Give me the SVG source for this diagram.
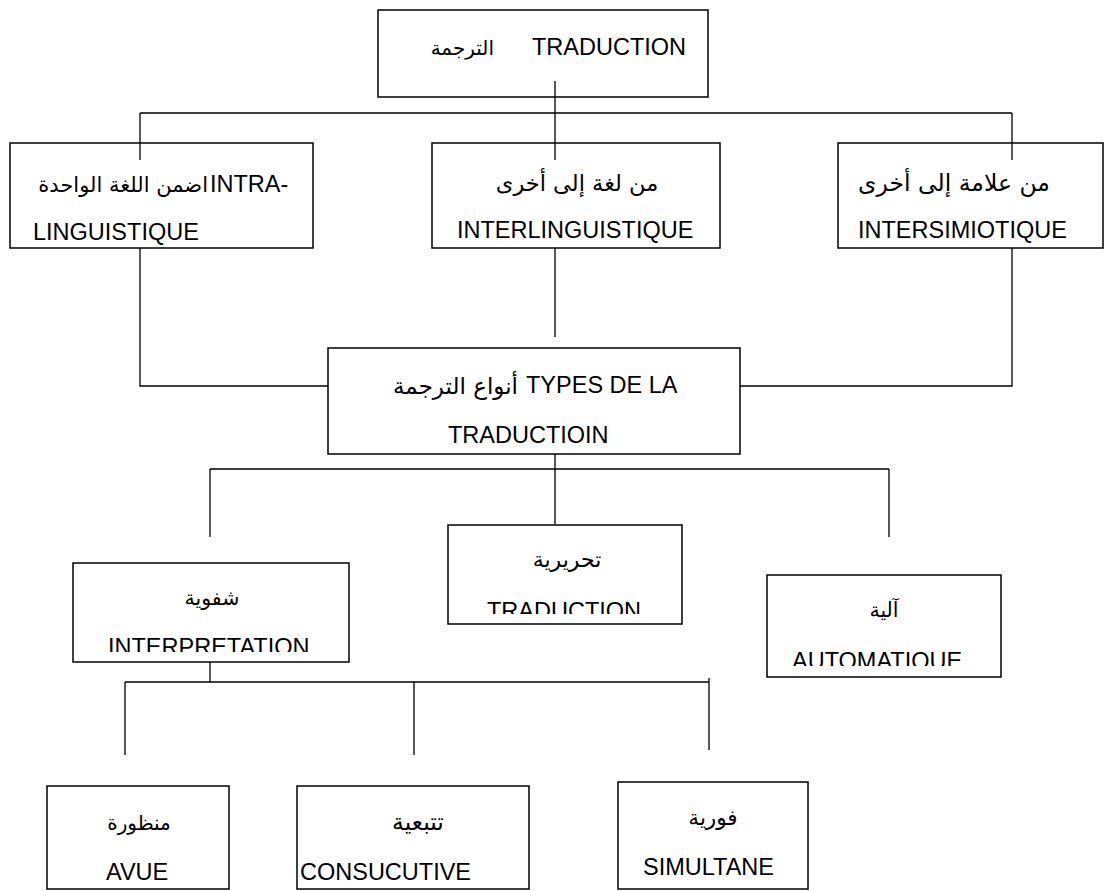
<svg xmlns="http://www.w3.org/2000/svg" width="1104" height="891" viewBox="0 0 1104 891">
<style>
.box{fill:#fff;stroke:#000;stroke-width:1.5}
.ln{stroke:#000;stroke-width:1.3;fill:none}
.lat{font-family:"Liberation Sans",Arial,sans-serif;font-size:23.5px;fill:#000}
.ar{font-family:"DejaVu Sans","Noto Sans",sans-serif;font-size:20px;fill:#000}
.mid{text-anchor:middle}
.end{text-anchor:end}
</style>
<defs>
<clipPath id="c1"><rect x="73" y="563" width="276" height="89"/></clipPath>
<clipPath id="c2"><rect x="448" y="525" width="234" height="89"/></clipPath>
<clipPath id="c3"><rect x="767" y="575" width="234" height="91"/></clipPath>
</defs>
<rect width="1104" height="891" fill="#fff"/>
<g id="n-top">
<rect class="box" x="378" y="10" width="330" height="87"/>
<text class="ar end" x="494" y="55" style="font-size:20px">الترجمة</text>
<text class="lat" x="532" y="55">TRADUCTION</text>
</g>
<g id="n-intra">
<rect class="box" x="10" y="143" width="303" height="105"/>
<text class="ar end" x="208" y="192" style="font-size:21px">اضمن اللغة الواحدة</text>
<text class="lat" x="210" y="192">INTRA-</text>
<text class="lat" x="33" y="240">LINGUISTIQUE</text>
</g>
<g id="n-inter">
<rect class="box" x="432" y="143" width="288" height="105"/>
<text class="ar mid" x="577" y="191" style="font-size:22.5px">من لغة إلى أخرى</text>
<text class="lat" x="457" y="238">INTERLINGUISTIQUE</text>
</g>
<g id="n-semio">
<rect class="box" x="838" y="143" width="265" height="105"/>
<text class="ar mid" x="954" y="191" style="font-size:23.5px">من علامة إلى أخرى</text>
<text class="lat" x="858" y="238">INTERSIMIOTIQUE</text>
</g>
<g id="n-types">
<rect class="box" x="328" y="348" width="412" height="106"/>
<text class="ar end" x="518" y="394" style="font-size:23px">أنواع الترجمة</text>
<text class="lat" x="526" y="393">TYPES DE LA</text>
<text class="lat" x="448" y="443">TRADUCTIOIN</text>
</g>
<g id="n-oral">
<rect class="box" x="73" y="563" width="276" height="99"/>
<text class="ar mid" x="212" y="605" style="font-size:20.5px">شفوية</text>
<text class="lat" x="108" y="655" clip-path="url(#c1)">INTERPRETATION</text>
</g>
<g id="n-ecrit">
<rect class="box" x="448" y="525" width="234" height="99"/>
<text class="ar mid" x="567" y="567" style="font-size:22px">تحريرية</text>
<text class="lat" x="487" y="619" clip-path="url(#c2)">TRADUCTION</text>
</g>
<g id="n-auto">
<rect class="box" x="767" y="575" width="234" height="102"/>
<text class="ar mid" x="884" y="617" style="font-size:20.5px">آلية</text>
<text class="lat" x="792" y="669" clip-path="url(#c3)">AUTOMATIQUE</text>
</g>
<g id="n-avue">
<rect class="box" x="47" y="786" width="182" height="103"/>
<text class="ar mid" x="139" y="830">منظورة</text>
<text class="lat" x="106" y="880">AVUE</text>
</g>
<g id="n-consec">
<rect class="box" x="297" y="786" width="232" height="103"/>
<text class="ar mid" x="418" y="830" style="font-size:23.5px">تتبعية</text>
<text class="lat" x="300" y="880">CONSUCUTIVE</text>
</g>
<g id="n-simul">
<rect class="box" x="618" y="782" width="190" height="107"/>
<text class="ar mid" x="713" y="825" style="font-size:21.5px">فورية</text>
<text class="lat" x="643" y="875">SIMULTANE</text>
</g>
<g id="connectors">
<path class="ln" d="M555 81V160M140 113H1012M140 113V160M1012 113V160"/>
<path class="ln" d="M140 248V386H328M555 248V337M1012 248V386H740"/>
<path class="ln" d="M555 454V524M210 469H889M210 469V537M889 469V537"/>
<path class="ln" d="M210 662V682M125 682H709M125 682V755M414 682V755M709 678V750"/>
</g>
</svg>
